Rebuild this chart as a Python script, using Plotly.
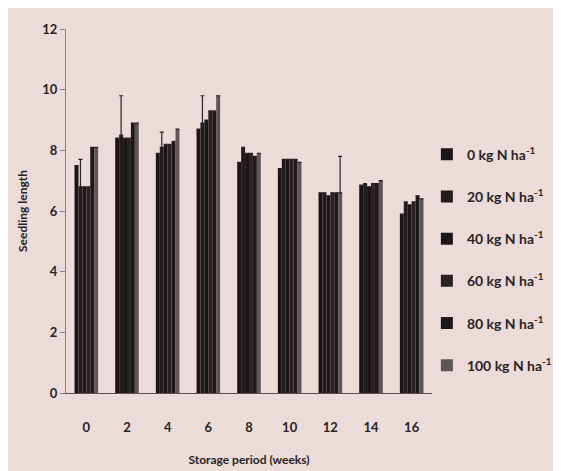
import plotly.graph_objects as go

weeks = ["0", "2", "4", "6", "8", "10", "12", "14", "16"]
series_names = ["0 kg N ha<sup>-1</sup>", "20 kg N ha<sup>-1</sup>", "40 kg N ha<sup>-1</sup>",
                "60 kg N ha<sup>-1</sup>", "80 kg N ha<sup>-1</sup>", "100 kg N ha<sup>-1</sup>"]

n0 = [7.5, 8.4, 7.9, 8.7, 7.6, 7.4, 6.6, 6.85, 5.9]
n20 = [6.8, 8.5, 8.1, 8.9, 8.1, 7.7, 6.6, 6.9, 6.3]
n40 = [6.8, 8.4, 8.2, 9.0, 7.9, 7.7, 6.5, 6.8, 6.2]
n60 = [6.8, 8.4, 8.2, 9.3, 7.9, 7.7, 6.6, 6.9, 6.3]
n80 = [8.1, 8.9, 8.3, 9.3, 7.8, 7.7, 6.6, 6.9, 6.5]
n100 = [8.1, 8.9, 8.7, 9.8, 7.9, 7.6, 6.6, 7.0, 6.4]

err0 = [0, 0, 0, 0, 0, 0, 0, 0, 0]
err20 = [0.9, 1.3, 0.5, 0.9, 0, 0, 0, 0, 0]
err40 = [0, 0, 0, 0, 0, 0, 0, 0, 0]
err60 = [0, 0, 0, 0, 0, 0, 0, 0, 0]
err80 = [0, 0, 0, 0, 0, 0, 0, 0, 0]
err100 = [0, 0, 0, 0, 0, 0, 1.2, 0, 0]

values = [n0, n20, n40, n60, n80, n100]
errors = [err0, err20, err40, err60, err80, err100]
colors = ["#1b1416", "#241b1d", "#1d1618", "#2a2123", "#1f181a", "#5e5557"]

bg = "#ebdcd9"
font_family = "Lato, 'Open Sans', sans-serif"
txt = "#2a2224"

fig = go.Figure()
for i, (name, vals, errs, col) in enumerate(zip(series_names, values, errors, colors)):
    fig.add_trace(go.Bar(
        x=weeks, y=vals, name=name, marker=dict(color=col, line=dict(width=0)),
        legendgroup="g%d" % i,
        error_y=dict(type="data", symmetric=False,
                     array=[e if e > 0 else None for e in errs],
                     arrayminus=[0 for e in errs],
                     visible=True, color="#2a2224", thickness=1.2, width=2),
    ))

fig.update_layout(
    width=561, height=471,
    paper_bgcolor=bg, plot_bgcolor=bg,
    margin=dict(l=58, r=133, t=21, b=86),
    barmode="group", bargap=0.42, bargroupgap=0,
    font=dict(family=font_family, color=txt),
    legend=dict(x=0.986, xanchor="left", y=0.365, yanchor="middle",
                font=dict(size=14, color=txt, family=font_family, weight="bold"),
                tracegroupgap=21, itemwidth=30, bgcolor="rgba(0,0,0,0)"),
    showlegend=True,
)
fig.update_xaxes(
    type="category", showline=True, linecolor="#5a5052", linewidth=1,
    ticks="", showgrid=False, ticklabelstandoff=22,
    tickfont=dict(size=13, family=font_family, color=txt, weight="bold"),
    title=dict(text="<b>Storage period (weeks)</b>", font=dict(size=12, family=font_family, color=txt), standoff=22),
)
fig.update_yaxes(
    range=[0, 12], dtick=2, showline=True, linecolor="#8a8082", linewidth=1,
    ticks="outside", ticklen=5, tickcolor="#8a8082", showgrid=False, zeroline=False,
    tickfont=dict(size=13, family=font_family, color=txt, weight="bold"),
    title=dict(text="<b>Seedling length</b>", font=dict(size=12, family=font_family, color=txt), standoff=12),
)

fig.write_html("out.html")
